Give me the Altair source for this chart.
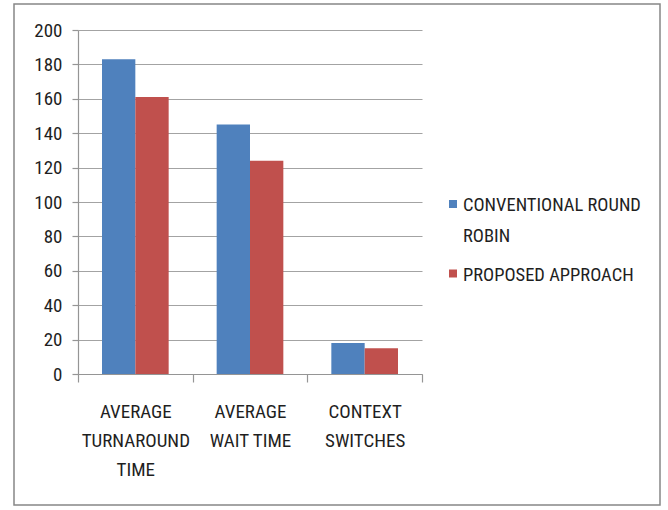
import altair as alt
import pandas as pd

# Scheduling metrics compared for the two algorithms
categories = ["AVERAGE TURNAROUND TIME", "AVERAGE WAIT TIME", "CONTEXT SWITCHES"]
category_lines = [["AVERAGE", "TURNAROUND", "TIME"], ["AVERAGE", "WAIT TIME"], ["CONTEXT", "SWITCHES"]]
series = ["CONVENTIONAL ROUND ROBIN", "PROPOSED APPROACH"]
series_lines = [["CONVENTIONAL ROUND", "ROBIN"], ["PROPOSED APPROACH"]]
round_robin = [183, 145, 18]
proposed = [161, 124, 15]
y_ticks = [0, 20, 40, 60, 80, 100, 120, 140, 160, 180, 200]
colors = ["#4F81BD", "#C0504D"]

rows = []
for cat, a, b in zip(categories, round_robin, proposed):
    rows.append({"metric": cat, "algorithm": series[0], "value": a})
    rows.append({"metric": cat, "algorithm": series[1], "value": b})
df = pd.DataFrame(rows)


def multiline_expr(names, lines):
    parts = []
    for name, ls in zip(names, lines):
        arr = "[" + ",".join("'" + s + "'" for s in ls) + "]"
        parts.append(f"datum.value == '{name}' ? {arr}")
    return " : ".join(parts) + " : datum.value"


FONT = "Roboto Condensed, Liberation Sans Narrow, sans-serif"
GRID = "#A3A3A3"
AXIS = "#959595"
TEXT = "#1F1F1F"

bars = alt.Chart(df).mark_bar().encode(
    x=alt.X(
        "metric:N",
        sort=categories,
        scale=alt.Scale(paddingInner=0, paddingOuter=0),
        axis=alt.Axis(
            title=None,
            labelAngle=0,
            tickBand="extent",
            tickSize=8,
            labelPadding=20,
            labelLineHeight=29,
            labelExpr=multiline_expr(categories, category_lines),
            grid=False,
        ),
    ),
    xOffset=alt.XOffset(
        "algorithm:N",
        sort=series,
        scale=alt.Scale(paddingInner=0, paddingOuter=0.72),
    ),
    y=alt.Y(
        "value:Q",
        scale=alt.Scale(domain=[0, 200], nice=False),
        axis=alt.Axis(
            title=None,
            values=y_ticks,
            tickSize=6,
            labelPadding=10,
            grid=True,
        ),
    ),
    color=alt.Color(
        "algorithm:N",
        sort=series,
        scale=alt.Scale(domain=series, range=colors),
        legend=None,
    ),
)

# Key on the right: a colour swatch and a wrapped name per series
legend_layers = []
swatch_y = [174, 243.5]
label_y = [166, 236]
for name, lines, color, sy, ty in zip(series, series_lines, colors, swatch_y, label_y):
    key = alt.Data(values=[{"algorithm": name}])
    legend_layers.append(
        alt.Chart(key).mark_square(size=64, color=color, opacity=1).encode(
            x=alt.value(375), y=alt.value(sy)
        )
    )
    legend_layers.append(
        alt.Chart(key).mark_text(
            text=lines, align="left", baseline="top", lineHeight=31,
            font=FONT, fontSize=18.5, color=TEXT,
        ).encode(x=alt.value(385), y=alt.value(ty))
    )

# Outer border of the chart area
frame = alt.Chart(alt.Data(values=[{}])).mark_rect(
    fill=None, stroke="#878787", strokeWidth=1.5
).encode(
    x=alt.value(-64), x2=alt.value(582), y=alt.value(-26), y2=alt.value(475)
)

chart = (
    alt.layer(frame, bars, *legend_layers)
    .properties(
        width=344,
        height=344,
        autosize=alt.AutoSizeParams(type="none"),
        padding={"left": 78, "top": 30, "right": 246, "bottom": 136},
        background="white",
    )
    .configure_view(stroke=None)
    .configure_axis(
        labelFont=FONT,
        labelFontSize=19,
        labelColor=TEXT,
        domainColor=AXIS,
        tickColor=AXIS,
        gridColor=GRID,
        gridWidth=1,
        domainWidth=1.2,
        tickWidth=1.2,
    )
)

chart.save("out.html", embed_options={"renderer": "svg", "actions": False})
